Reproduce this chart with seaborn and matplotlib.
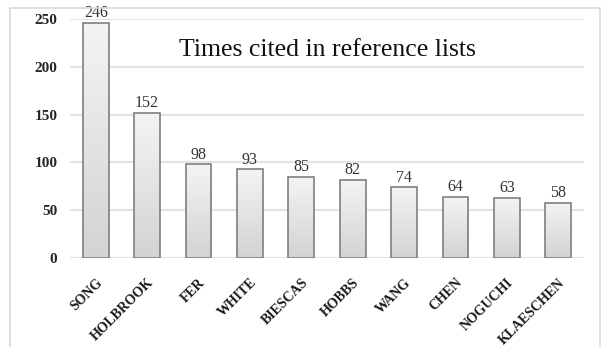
import numpy as np
import pandas as pd
import matplotlib
matplotlib.use("Agg")
import matplotlib.pyplot as plt
import seaborn as sns
from matplotlib.patches import Rectangle

authors = ["SONG", "HOLBROOK", "FER", "WHITE", "BIESCAS", "HOBBS", "WANG", "CHEN", "NOGUCHI", "KLAESCHEN"]
citations = [246, 152, 98, 93, 85, 82, 74, 64, 63, 58]
y_ticks = [0, 50, 100, 150, 200, 250]
title = "Times cited in reference lists"

df = pd.DataFrame({"author": authors, "cited": citations})

sns.set_theme(style="white")
plt.rcParams["font.family"] = ["Liberation Serif", "DejaVu Serif"]

fig = plt.figure(figsize=(6.10, 3.47), dpi=100)
ax = fig.add_axes([70/610, 1 - 258/347, 514/610, 239/347])

sns.barplot(data=df, x="author", y="cited", ax=ax, color="#e0e0e0",
            edgecolor="#7f7f7f", linewidth=1.2, width=0.5, saturation=1, zorder=3)

ax.set_ylim(0, 250)
ax.set_xlim(-0.5, len(authors) - 0.5)
ax.set_yticks(y_ticks)
ax.set_yticklabels([str(v) for v in y_ticks], fontsize=11, fontweight="bold", color="#262626")
ax.yaxis.grid(True, color="#e3e3e3", linewidth=1.5, zorder=0)
ax.set_axisbelow(True)
for s in ax.spines.values():
    s.set_visible(False)
ax.tick_params(axis="both", length=0)
ax.tick_params(axis="y", pad=9)
ax.tick_params(axis="x", pad=13)
ax.set_xlabel("")
ax.set_ylabel("")
for lbl in ax.get_xticklabels():
    lbl.set_rotation(45)
    lbl.set_ha("right")
    lbl.set_rotation_mode("anchor")
    lbl.set_fontsize(10)
    lbl.set_fontweight("bold")
    lbl.set_color("#1a1a1a")

# gradient fill per bar
grad = np.linspace(0, 1, 256).reshape(-1, 1)
cmap = matplotlib.colors.LinearSegmentedColormap.from_list("g", ["#d3d3d3", "#f4f4f4"])
for p in ax.patches:
    x0, y0 = p.get_x(), p.get_y()
    w, h = p.get_width(), p.get_height()
    im = ax.imshow(grad, cmap=cmap, aspect="auto", origin="lower",
                   extent=[x0, x0 + w, y0, y0 + h], zorder=3.5)
    im.set_clip_path(p)
    p.set_facecolor("none")
    p.set_zorder(4)

for i, v in enumerate(citations):
    ax.text(i, v + 1.5, str(v), ha="center", va="bottom", fontsize=11.5, color="#333333", zorder=5)

ax.text(0.5, 0.87, title, transform=ax.transAxes, ha="center", va="center",
        fontsize=18.5, color="#111111")

ax.set_xlim(-0.5, len(authors) - 0.5)
ax.set_ylim(0, 250)

fig.patches.append(Rectangle((10/610, -0.1), 590/610, 1.1 - 8/347, transform=fig.transFigure,
                             fill=False, edgecolor="#d9d9d9", linewidth=1.2))

fig.savefig("out.png", dpi=100)
